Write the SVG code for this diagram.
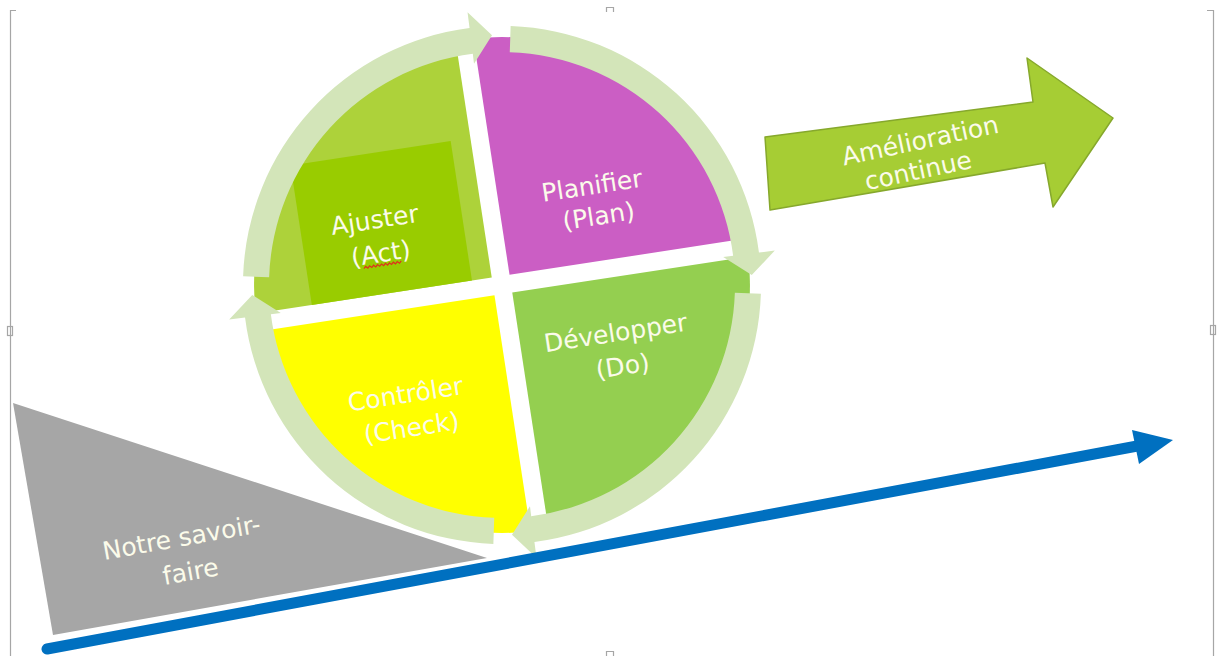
<svg xmlns="http://www.w3.org/2000/svg" width="1217" height="656" viewBox="0 0 1217 656">
  <defs>
    <style>
      .t { font-family: "DejaVu Sans", "Liberation Sans", sans-serif; font-size: 25px; fill: #fbfbea; text-anchor: middle; }
      .ring { fill: #d3e5b9; }
      .frame { fill: none; stroke: #a6a6a6; stroke-width: 1.2; }
    </style>
    <path id="quad" d="M9,-9 V-247.8 A248,248 0 0 1 247.8,-9 Z"/>
    <path id="cyc" d="M47.7,-254.6 A259,259 0 0 1 258.9,6.8 L274.9,7.2 L248.4,27.9 L222.9,5.8 L232.9,6.1 A233,233 0 0 0 42.9,-229 Z"/>
  </defs>
  <rect width="1217" height="656" fill="#ffffff"/>

  <g id="frame">
    <path class="frame" d="M10.5,656 V12 M10.5,16 V10.5 H16"/>
    <path class="frame" d="M1213.5,656 V12 M1207,10.5 H1213.5 V16"/>
    <path class="frame" d="M606.5,12 V7.5 H613.5 V12"/>
    <rect class="frame" x="7.5" y="326.5" width="5" height="9"/>
    <rect class="frame" x="1210.5" y="325.5" width="5" height="9"/>
    <path class="frame" d="M606.5,656 V651.5 H613.5 V656"/>
  </g>

  <g id="savoir-faire">
    <polygon points="13,403 53,635 487,558" fill="#a6a6a6"/>
    <text class="t" transform="translate(183,546) rotate(-10)">Notre savoir-</text>
    <text class="t" transform="translate(192,580) rotate(-10)">faire</text>
  </g>

  <g id="pdca" transform="translate(502,285) rotate(-8.7)">
    <g id="plan">
      <use href="#quad" fill="#cb5ec4"/>
      <text class="t" x="104" y="-76">Planifier</text>
      <text class="t" x="106" y="-45">(Plan)</text>
    </g>
    <g id="do">
      <use href="#quad" fill="#94cf50" transform="rotate(90)"/>
      <text class="t" x="105" y="73">Développer</text>
      <text class="t" x="107" y="107">(Do)</text>
    </g>
    <g id="check">
      <use href="#quad" fill="#ffff00" transform="rotate(180)"/>
      <text class="t" x="-112" y="102" fill="#fdfde2">Contrôler</text>
      <text class="t" x="-111" y="136">(Check)</text>
    </g>
    <g id="act">
      <use href="#quad" fill="#add23a" transform="rotate(270)"/>
      <rect x="-191" y="-150" width="162" height="141" fill="#99cc00"/>
      <text class="t" x="-116" y="-75">Ajuster</text>
      <text class="t" x="-115" y="-41">(Act)</text>
      <path d="M-134,-37 l2,-2 l2,2 l2,-2 l2,2 l2,-2 l2,2 l2,-2 l2,2 l2,-2 l2,2 l2,-2 l2,2 l2,-2 l2,2 l2,-2 l2,2 l2,-2 l2,2 l2,-2" fill="none" stroke="#e0301e" stroke-width="1.2"/>
    </g>
    <g id="connectors">
      <use href="#cyc" class="ring"/>
      <use href="#cyc" class="ring" transform="rotate(90)"/>
      <use href="#cyc" class="ring" transform="rotate(180)"/>
      <use href="#cyc" class="ring" transform="rotate(270)"/>
    </g>
  </g>

  <g id="progress-arrow">
    <path d="M47,649 L1140,445.5" stroke="#0070c0" stroke-width="11" stroke-linecap="round" fill="none"/>
    <polygon points="1173,440 1132,430 1139,464" fill="#0070c0"/>
  </g>

  <g id="amelioration">
    <polygon points="765,137 1033,102 1027,58 1113,118 1053,207 1045,163 770,210" fill="#a6cd34" stroke="#86a82c" stroke-width="1.5" stroke-linejoin="round"/>
    <text class="t" transform="translate(922,149) rotate(-12)">Amélioration</text>
    <text class="t" transform="translate(920,179) rotate(-12)">continue</text>
  </g>
</svg>
